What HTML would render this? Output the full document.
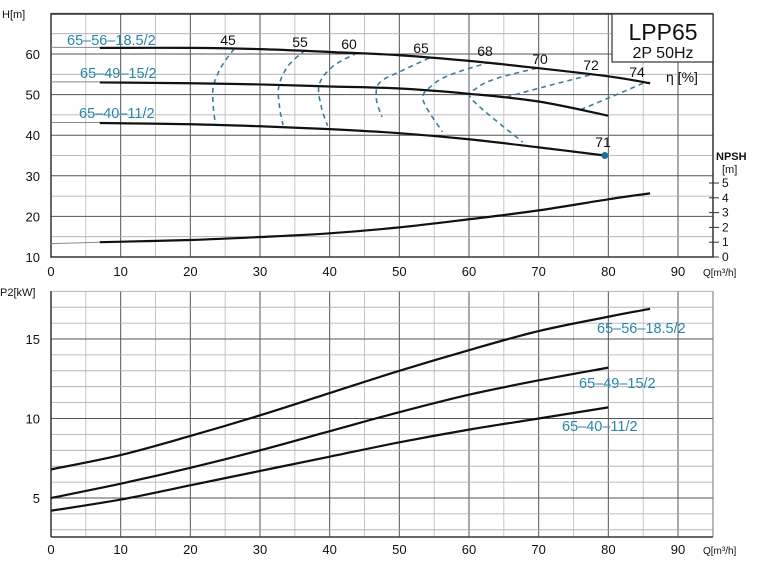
<!DOCTYPE html>
<html><head><meta charset="utf-8"><style>
body{margin:0;background:#fff;}
svg{display:block;font-family:"Liberation Sans",sans-serif;}
</style></head><body>
<svg id="c" width="758" height="561" viewBox="0 0 758 561"></svg>
<script>
const qTicks=[0,10,20,30,40,50,60,70,80,90];
const hTicks=[10,20,30,40,50,60];
const npshTicks=[0,1,2,3,4,5];
const pTicks=[5,10,15];
const headNames=["65–56–18.5/2","65–49–15/2","65–40–11/2"];
const headQ=[[7,20,30,40,50,60,70,80,86],[7,20,30,40,50,60,70,80],[7,20,30,40,50,60,70,79.5]];
const headH=[[61.5,61.5,61.2,60.5,59.7,58.3,56.5,54.5,52.8],[53,52.8,52.5,52,51.5,50.2,48.3,44.8],[43,42.7,42.2,41.5,40.5,39,37,35]];
const npshQ=[7,20,30,40,50,60,70,80,86];
const npshV=[1.0,1.15,1.35,1.6,2.0,2.55,3.15,3.9,4.3];
const effLabels=["45","55","60","65","68","70","72","74"];
const effQ=[[26.3,24.5,23.3,23.3,23.6],[36.5,34,32.7,32.8,33.3],[44,40.5,38.5,38.8,39.7],[54.3,50.5,47.2,46.7,47.5],[63,57.5,54.8,53.4,56.2],[69.7,64,61.1,60.5,67.7],[77.3,71,64.9],[85,80.5,75.9]];
const effH=[[61.3,57,52,47,42.8],[61,57,52,47,42.5],[60.3,57,52.5,47,42.3],[59,56,53,49,44.5],[58,55,52.4,48.7,40.8],[56.5,54,51.6,48.7,38.3],[54.8,52,49.2],[52.8,49.5,46.2]];
const pQ=[[0,10,20,30,40,50,60,70,80,86],[0,10,20,30,40,50,60,70,80],[0,10,20,30,40,50,60,70,80]];
const pV=[[6.8,7.7,8.9,10.2,11.6,13,14.3,15.5,16.4,16.9],[5,5.9,6.9,8,9.2,10.4,11.5,12.4,13.2],[4.2,4.9,5.8,6.7,7.6,8.5,9.3,10,10.7]];

const NS="http://www.w3.org/2000/svg";
const svg=document.getElementById('c');
function mk(t,a,txt){const e=document.createElementNS(NS,t);for(const k in a)e.setAttribute(k,a[k]);if(txt!==undefined)e.textContent=txt;svg.appendChild(e);return e;}
const L=51,R=713;
const qx=q=>L+q*(678-L)/90;
const hy=h=>257-(h-10)*(257-54)/50;
const ny=n=>257-n*14.8;
const py=p=>498-(p-5)*(498-339)/10;
function smooth(xs,ys){let d='M'+xs[0]+' '+ys[0];for(let i=0;i<xs.length-1;i++){const x0=xs[i-1]??xs[i],y0=ys[i-1]??ys[i],x3=xs[i+2]??xs[i+1],y3=ys[i+2]??ys[i+1];const c1x=xs[i]+(xs[i+1]-x0)/6,c1y=ys[i]+(ys[i+1]-y0)/6,c2x=xs[i+1]-(x3-xs[i])/6,c2y=ys[i+1]-(y3-ys[i])/6;d+=` C${c1x} ${c1y} ${c2x} ${c2y} ${xs[i+1]} ${ys[i+1]}`;}return d;}

// ---------- top panel ----------
const T=14,B=257;
for(let q=0;q<=95;q+=5){const e=mk('line',{x1:qx(q),y1:T,x2:qx(q),y2:B,stroke:q%10?'#bbb':'#555','stroke-width':q%10?0.8:1});
}
for(let h=10;h<=70;h+=5){const e=mk('line',{x1:L,y1:hy(h),x2:R,y2:hy(h),stroke:h%10?'#aaa':'#555','stroke-width':h%10?0.8:1});
}
mk('rect',{x:L,y:T,width:R-L,height:B-T,fill:'none',stroke:'#333','stroke-width':1.5,});
qTicks.forEach(q=>{const e=mk('text',{x:qx(q),y:276,'font-size':13,'text-anchor':'middle',fill:'#111'},q);
});
hTicks.forEach(h=>{const e=mk('text',{x:40,y:hy(h)+5,'font-size':13,'text-anchor':'end',fill:'#111'},h);
});
npshTicks.forEach(n=>{const l=mk('line',{x1:R-4,y1:ny(n),x2:R+6,y2:ny(n),stroke:'#333'});

const e=mk('text',{x:R+9,y:ny(n)+4,'font-size':12,fill:'#111'},n);
});
mk('text',{x:2,y:18,'font-size':11,fill:'#111',},'H[m]');
mk('text',{x:716,y:160,'font-size':11,'font-weight':'bold',fill:'#111',},'NPSH');
mk('text',{x:722,y:173,'font-size':11,fill:'#111',},'[m]');
mk('text',{x:703,y:276,'font-size':10,fill:'#111',},'Q[m³/h]');
[61.5,53,43].forEach((h,i)=>{const e=mk('line',{x1:L,y1:hy(h)-0.5,x2:qx(7),y2:hy(h)-0.5,stroke:'#888','stroke-width':1});
});
mk('line',{x1:L,y1:ny(0.9),x2:qx(7),y2:ny(npshV[0]),stroke:'#888','stroke-width':1,});
effQ.forEach((qs,i)=>{const e=mk('path',{d:smooth(qs.map(qx),effH[i].map(hy)),fill:'none',stroke:'#3a7f9a','stroke-width':1.6,'stroke-dasharray':'5 4'});
});
const effLabPos=[[228,45],[300,47],[349,49],[421,53],[485,56],[540,64],[591,70],[637,77]];
effLabels.forEach((t,i)=>{const e=mk('text',{x:effLabPos[i][0],y:effLabPos[i][1],'font-size':14,'text-anchor':'middle',fill:'#111'},t);
});
mk('text',{x:666,y:82,'font-size':14,fill:'#111',},'η [%]');
headQ.forEach((qs,i)=>{const e=mk('path',{d:smooth(qs.map(qx),headH[i].map(hy)),fill:'none',stroke:'#111','stroke-width':2.2});
});
mk('path',{d:smooth(npshQ.map(qx),npshV.map(ny)),fill:'none',stroke:'#111','stroke-width':2.2,});
mk('circle',{cx:qx(79.5),cy:hy(35),r:3.5,fill:'#1f6f96',});
mk('text',{x:603,y:147,'font-size':14,'text-anchor':'middle',fill:'#111',},'71');
const topLab=[[67,45],[80,78],[79,118]];
headNames.forEach((n,i)=>{const e=mk('text',{x:topLab[i][0],y:topLab[i][1],'font-size':14.5,fill:'#2a86a8'},n);
});
mk('rect',{x:612,y:14,width:101,height:48,fill:'#fff',stroke:'#333','stroke-width':1.2,});
mk('text',{x:663,y:40,'font-size':23,'text-anchor':'middle',fill:'#111',},'LPP65');
mk('text',{x:663,y:58,'font-size':16,'text-anchor':'middle',fill:'#111',},'2P  50Hz');

// ---------- bottom panel ----------
const T2=py(18),B2=537;
for(let q=0;q<=95;q+=5){const e=mk('line',{x1:qx(q),y1:T2,x2:qx(q),y2:B2,stroke:q%10?'#bbb':'#555','stroke-width':q%10?0.8:1});
}
for(let p=3;p<=18;p+=1){const e=mk('line',{x1:L,y1:py(p),x2:R,y2:py(p),stroke:p%5?'#aaa':'#555','stroke-width':p%5?0.8:1});
}
mk('line',{x1:L,y1:T2,x2:L,y2:B2,stroke:'#333','stroke-width':1.5,});
mk('line',{x1:L,y1:B2,x2:R,y2:B2,stroke:'#333','stroke-width':1.5,});
mk('line',{x1:R,y1:T2,x2:R,y2:B2,stroke:'#777','stroke-width':1,});
qTicks.forEach(q=>{const e=mk('text',{x:qx(q),y:554,'font-size':13,'text-anchor':'middle',fill:'#111'},q);
});
pTicks.forEach(p=>{const e=mk('text',{x:40,y:py(p)+5,'font-size':13,'text-anchor':'end',fill:'#111'},p);
});
mk('text',{x:0,y:296,'font-size':11,fill:'#111',},'P2[kW]');
mk('text',{x:703,y:554,'font-size':10,fill:'#111',},'Q[m³/h]');
pQ.forEach((qs,i)=>{const e=mk('path',{d:smooth(qs.map(qx),pV[i].map(py)),fill:'none',stroke:'#111','stroke-width':2.2});
});
const botLab=[[597,333],[579,388],[562,431]];
headNames.forEach((n,i)=>{const e=mk('text',{x:botLab[i][0],y:botLab[i][1],'font-size':14.5,fill:'#2a86a8'},n);
});
</script>
</body></html>
